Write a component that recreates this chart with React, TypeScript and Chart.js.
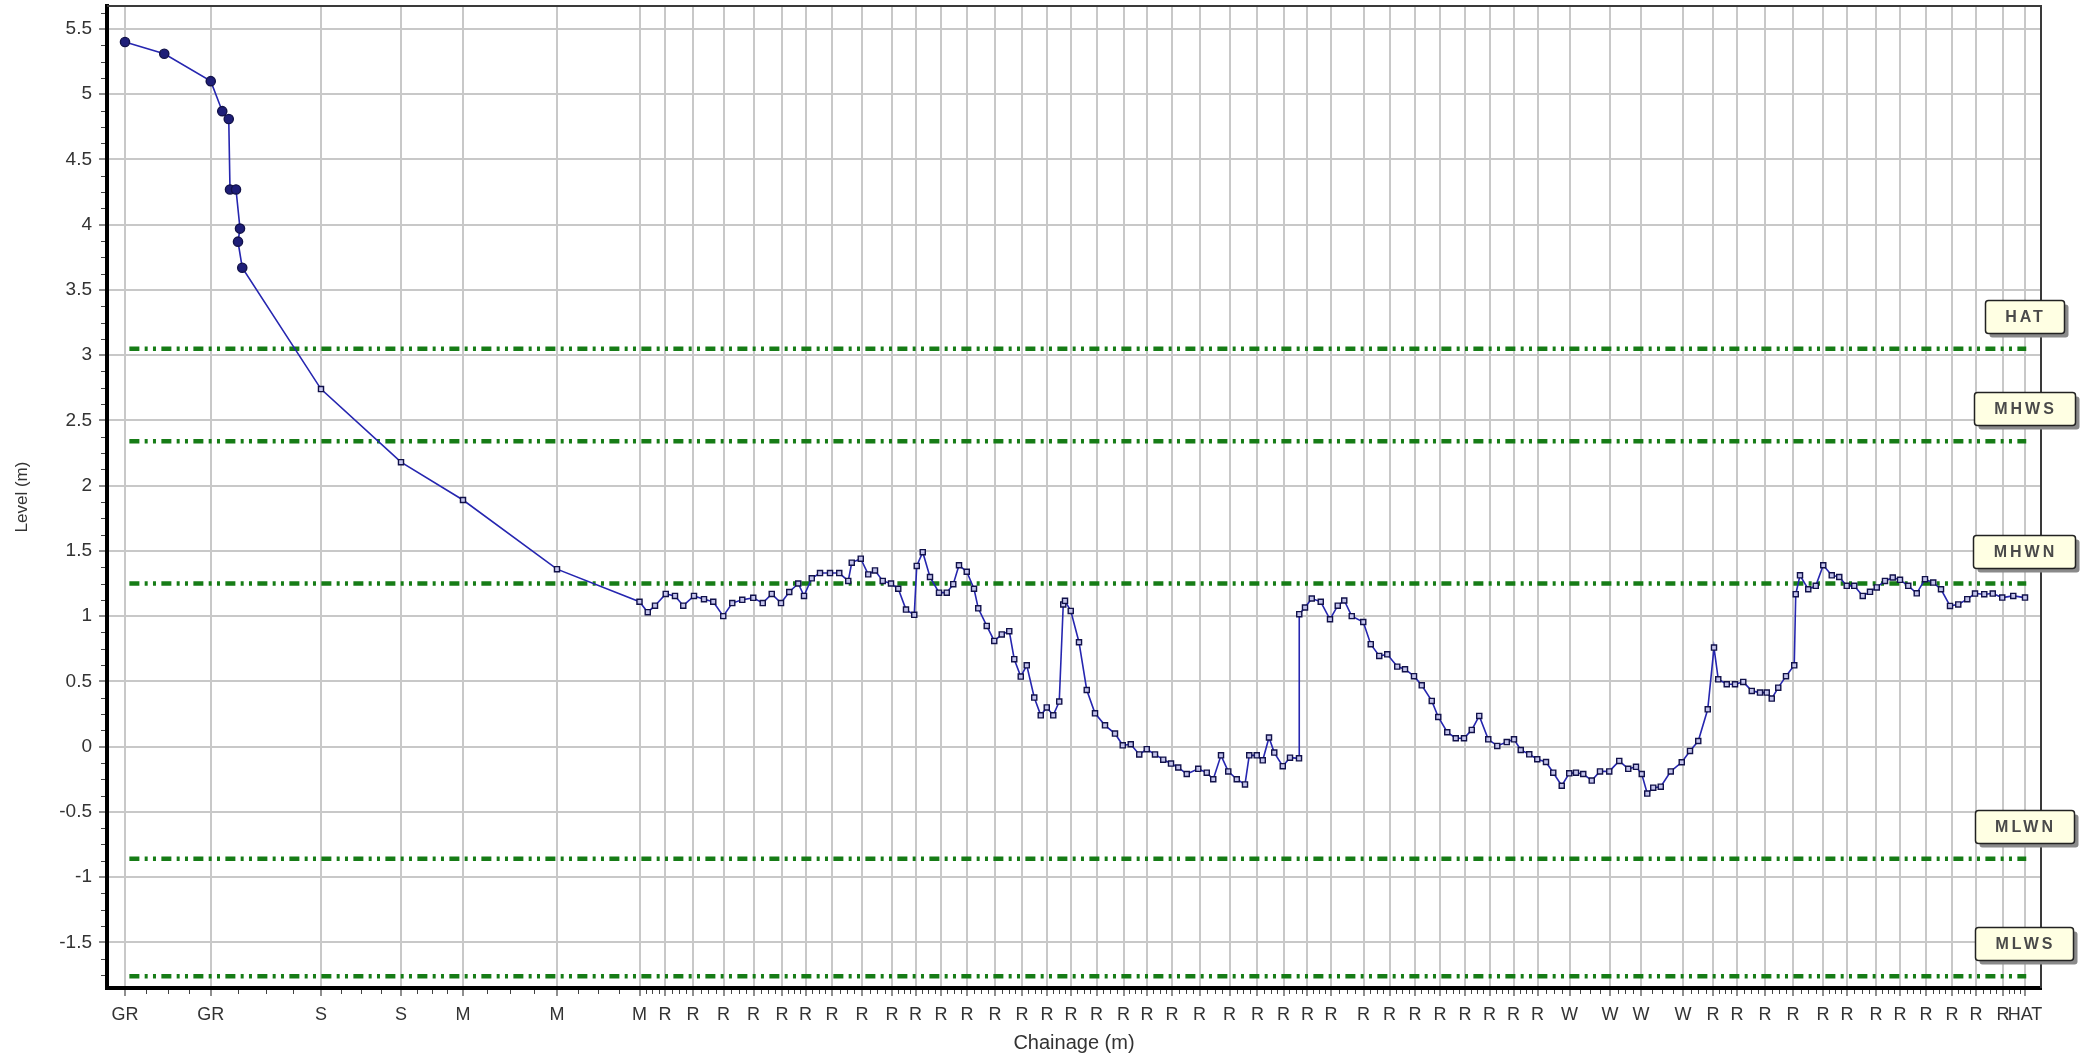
import React, { useEffect, useRef } from 'react';
import { Chart, registerables } from 'chart.js';

Chart.register(...registerables);

const FONT = '"Liberation Sans", Arial, sans-serif';
const NARROW = '"Liberation Sans Narrow", "Liberation Sans", Arial, sans-serif';

// ---- axis feature-code labels and their chainages (m) ----
const R34 = Array(34).fill('R');
const R12 = Array(12).fill('R');
const tickCodes = ['GR', 'GR', 'S', 'S', 'M', 'M', 'M', ...R34, 'W', 'W', 'W', 'W', ...R12, 'HAT'];
const tickChainages = [
  0, 6.86, 15.68, 22.08, 27.04, 34.56, 41.16,
  43.2, 45.44, 47.88, 50.28, 52.56, 54.44, 56.56, 58.96, 61.36, 63.24,
  65.28, 67.36, 69.6, 71.76, 73.76, 75.68, 77.72, 79.88, 81.76, 83.76,
  85.96, 88.36, 90.6, 92.68, 94.6, 96.48, 99.08, 101.16, 103.2, 105.2,
  107.2, 109.16, 111.08, 113.0,
  115.56, 118.8, 121.28, 124.64,
  127.04, 128.96, 131.2, 133.44, 135.84, 137.76, 140.08, 142.0, 144.08, 146.16, 148.08, 150.24,
  152.0,
];

const yTicks = [-1.5, -1, -0.5, 0, 0.5, 1, 1.5, 2, 2.5, 3, 3.5, 4, 4.5, 5, 5.5];

// ---- tidal levels ----
const levelNames = ['HAT', 'MHWS', 'MHWN', 'MLWN', 'MLWS'];
const levelValues = [3.05, 2.34, 1.25, -0.86, -1.76];
const levelFrom = 0.35;
const levelTo = 152.1;

// ---- profile: upper slope ----
const chSlope = [0, 3.14, 6.86, 7.78, 8.3, 8.4, 8.88, 9.2, 9.04, 9.38, 15.68, 22.08, 27.04, 34.56];
const lvSlope = [5.40, 5.31, 5.10, 4.87, 4.81, 4.27, 4.27, 3.97, 3.87, 3.67, 2.74, 2.18, 1.89, 1.36];

// ---- profile: reef section A ----
const chReefA = [
  41.16, 41.82, 42.4, 43.26, 44.0, 44.66, 45.52, 46.32, 47.06, 47.86,
  48.58, 49.38, 50.26, 51.02, 51.74, 52.48, 53.14, 53.86, 54.32, 54.94,
  55.6, 56.4, 57.14, 57.86, 58.14, 58.86, 59.46, 60.0, 60.62, 61.28,
  61.86, 62.48, 63.14, 63.34, 63.82, 64.4, 65.12, 65.74, 66.26, 66.72,
  67.34, 67.92, 68.26, 68.94, 69.54, 70.14, 70.74, 71.14, 71.66, 72.14,
  72.74, 73.26, 73.74, 74.26, 74.74, 75.06, 75.2, 75.66, 76.32, 76.94,
  77.6, 78.4, 79.2,
];
const lvReefA = [
  1.11, 1.03, 1.08, 1.17, 1.155, 1.08, 1.155, 1.13, 1.11, 1.00,
  1.10, 1.125, 1.14, 1.10, 1.17, 1.10, 1.185, 1.25, 1.155, 1.29,
  1.33, 1.33, 1.33, 1.27, 1.41, 1.44, 1.32, 1.35, 1.27, 1.25,
  1.21, 1.05, 1.01, 1.385, 1.49, 1.30, 1.18, 1.18, 1.245, 1.39,
  1.34, 1.21, 1.06, 0.925, 0.81, 0.86, 0.885, 0.67, 0.537, 0.623,
  0.376, 0.24, 0.30, 0.24, 0.345, 1.09, 1.117, 1.04, 0.80, 0.434,
  0.255, 0.163, 0.10,
];

// ---- profile: reef section B ----
const chReefB = [
  79.82, 80.46, 81.14, 81.74, 82.4, 83.06, 83.68, 84.26, 84.94, 85.86,
  86.54, 87.06, 87.68, 88.26, 88.94, 89.6, 89.94, 90.54, 91.02, 91.52,
  91.94, 92.62, 93.2, 93.92, 93.94, 94.4, 94.94, 95.66, 96.4, 97.02,
  97.54, 98.14, 99.06, 99.66, 100.34, 100.98, 101.78, 102.4, 103.12, 103.74,
  104.54, 105.06, 105.78, 106.46, 107.12, 107.74, 108.34, 109.06, 109.78, 110.54,
  111.12, 111.66, 112.34, 112.98, 113.68, 114.26, 114.94, 115.54,
];
const lvReefB = [
  0.01, 0.018, -0.06, -0.02, -0.06, -0.10, -0.13, -0.16, -0.21, -0.17,
  -0.20, -0.25, -0.067, -0.19, -0.25, -0.29, -0.067, -0.067, -0.105, 0.07,
  -0.046, -0.15, -0.085, -0.09, 1.015, 1.066, 1.135, 1.11, 0.976, 1.08,
  1.12, 1.00, 0.955, 0.785, 0.695, 0.707, 0.613, 0.593, 0.54, 0.47,
  0.35, 0.227, 0.11, 0.064, 0.064, 0.128, 0.235, 0.056, 0.005, 0.035,
  0.056, -0.026, -0.059, -0.097, -0.118, -0.20, -0.30, -0.205,
];

// ---- profile: reef section C ----
const chReefC = [
  116.08, 116.66, 117.34, 118.0, 118.74, 119.54, 120.26, 120.88, 121.34, 121.78,
  122.26, 122.86, 123.66, 124.54, 125.2, 125.86, 126.62, 127.12, 127.46, 128.14,
  128.8, 129.46, 130.14, 130.8, 131.34, 131.74, 132.26, 132.88, 133.54, 133.66,
  134.0, 134.66, 135.26, 135.86, 136.54, 137.14, 137.74, 138.34, 139.02, 139.6,
  140.14, 140.8, 141.42, 142.0, 142.66, 143.34, 144.0, 144.66, 145.28, 146.0,
  146.66, 147.38, 148.0, 148.74, 149.42, 150.18, 151.06, 152.0,
];
const lvReefC = [
  -0.20, -0.21, -0.26, -0.19, -0.19, -0.11, -0.17, -0.155, -0.21, -0.36,
  -0.315, -0.307, -0.19, -0.12, -0.033, 0.043, 0.286, 0.759, 0.516, 0.478,
  0.478, 0.496, 0.427, 0.414, 0.414, 0.368, 0.452, 0.54, 0.623, 1.168,
  1.313, 1.206, 1.232, 1.39, 1.313, 1.30, 1.232, 1.232, 1.155, 1.186,
  1.22, 1.27, 1.296, 1.278, 1.232, 1.175, 1.283, 1.257, 1.206, 1.078,
  1.09, 1.13, 1.173, 1.168, 1.173, 1.142, 1.155, 1.142,
];

const X_MIN = -1.44;
const X_MAX = 153.28;
const Y_MIN = -1.85;
const Y_MAX = 5.676;

const decorPlugin = {
  id: 'decor',
  afterDraw(chart: any) {
    const { ctx, chartArea: a, scales } = chart;
    const x = scales.x;
    const y = scales.y;
    ctx.save();
    // frame: top and right
    ctx.strokeStyle = '#3a3a3a';
    ctx.lineWidth = 2;
    ctx.beginPath();
    ctx.moveTo(a.left, a.top);
    ctx.lineTo(a.right, a.top);
    ctx.lineTo(a.right, a.bottom);
    ctx.stroke();

    // minor ticks on x axis (quarter divisions between coded points)
    ctx.strokeStyle = '#444';
    ctx.lineWidth = 1;
    ctx.beginPath();
    for (let i = 0; i < tickChainages.length - 1; i++) {
      const c0 = tickChainages[i];
      const c1 = tickChainages[i + 1];
      for (let k = 1; k < 4; k++) {
        const px = Math.round(x.getPixelForValue(c0 + ((c1 - c0) * k) / 4)) + 0.5;
        ctx.moveTo(px, a.bottom + 2);
        ctx.lineTo(px, a.bottom + 6);
      }
    }
    // minor ticks on y axis
    for (let v = -1.75; v <= Y_MAX; v += 0.125) {
      if (Math.abs(v * 2 - Math.round(v * 2)) < 1e-6) continue;
      const py = Math.round(y.getPixelForValue(v)) + 0.5;
      ctx.moveTo(a.left - 6, py);
      ctx.lineTo(a.left - 2, py);
    }
    ctx.stroke();

    // level name boxes
    ctx.font = `bold 16px ${FONT}`;
    (ctx as any).letterSpacing = '3px';
    levelNames.forEach((name, i) => {
      const py = y.getPixelForValue(levelValues[i]);
      const tw = ctx.measureText(name).width;
      const w = Math.round(tw + 38);
      const h = 33;
      const cx = a.right - 17;
      const bx = Math.round(cx - w / 2) + 0.5;
      const by = Math.round(py - 16 - h) + 0.5;
      ctx.fillStyle = '#8a8a8a';
      ctx.beginPath();
      ctx.roundRect(bx + 4, by + 4, w, h, 3);
      ctx.fill();
      ctx.fillStyle = '#ffffe3';
      ctx.strokeStyle = '#222';
      ctx.lineWidth = 1.5;
      ctx.beginPath();
      ctx.roundRect(bx, by, w, h, 3);
      ctx.fill();
      ctx.stroke();
      ctx.fillStyle = '#4a4a4a';
      ctx.textAlign = 'center';
      ctx.textBaseline = 'middle';
      ctx.fillText(name, cx + 1.5, by + h / 2 + 1);
    });
    ctx.restore();
  },
};

export default function App() {
  const ref = useRef<HTMLCanvasElement>(null);

  useEffect(() => {
    const canvas = ref.current;
    if (!canvas) return;
    const chainage = [...chSlope, ...chReefA, ...chReefB, ...chReefC];
    const level = [...lvSlope, ...lvReefA, ...lvReefB, ...lvReefC];
    const points = chainage.map((c, i) => ({ x: c, y: level[i] }));
    const nSlope = 10;

    const levelSets = levelNames.map((name, i) => ({
      label: name,
      data: [
        { x: levelFrom, y: levelValues[i] },
        { x: levelTo, y: levelValues[i] },
      ],
      borderColor: '#167c16',
      borderWidth: 4.5,
      borderDash: [10, 5.3, 3, 5.3, 3, 5.4],
      borderCapStyle: 'butt',
      pointRadius: 0,
      tension: 0,
    }));

    const chart = new Chart(canvas, {
      type: 'line',
      data: {
        datasets: [
          {
            label: 'Profile',
            data: points,
            borderColor: '#2626b0',
            borderWidth: 1.6,
            tension: 0,
            pointStyle: (c: any) => (c.dataIndex < nSlope ? 'circle' : 'rect'),
            pointRadius: (c: any) => (c.dataIndex < nSlope ? 4.6 : 3.6),
            pointBackgroundColor: (c: any) => (c.dataIndex < nSlope ? '#1e1e78' : '#c4c4ec'),
            pointBorderColor: '#12124a',
            pointBorderWidth: 1.4,
          } as any,
          ...(levelSets as any[]),
        ],
      },
      options: {
        animation: false,
        responsive: false,
        events: [],
        layout: { padding: { left: 0, right: 51, top: 6, bottom: 0 } },
        plugins: {
          legend: { display: false },
          tooltip: { enabled: false },
        },
        scales: {
          x: {
            type: 'linear',
            min: X_MIN,
            max: X_MAX,
            afterBuildTicks: (s: any) => {
              s.ticks = tickChainages.map((v) => ({ value: v }));
            },
            afterFit: (s: any) => {
              s.height = 69;
              s.paddingLeft = 0;
              s.paddingRight = 0;
            },
            ticks: {
              autoSkip: false,
              maxRotation: 0,
              minRotation: 0,
              padding: 8,
              color: '#333',
              font: { family: NARROW, size: 18 },
              callback: (_v: any, i: number) => tickCodes[i],
            },
            grid: {
              color: '#c8c8c8',
              lineWidth: 2,
              tickColor: '#444',
              tickWidth: 1.2,
              tickLength: 8,
            },
            border: { display: true, color: '#000', width: 4 },
            title: {
              display: true,
              text: 'Chainage (m)',
              color: '#333',
              font: { family: NARROW, size: 20 },
              padding: { top: 0, bottom: 2 },
            },
          },
          y: {
            type: 'linear',
            min: Y_MIN,
            max: Y_MAX,
            afterBuildTicks: (s: any) => {
              s.ticks = yTicks.map((v) => ({ value: v }));
            },
            afterFit: (s: any) => {
              s.width = 107;
              s.paddingTop = 0;
              s.paddingBottom = 0;
            },
            ticks: {
              padding: 7,
              color: '#333',
              font: { family: FONT, size: 19 },
              callback: (v: any) => String(v),
            },
            grid: {
              color: '#c8c8c8',
              lineWidth: 2,
              tickColor: '#444',
              tickWidth: 1.2,
              tickLength: 8,
            },
            border: { display: true, color: '#000', width: 4 },
            title: {
              display: true,
              text: 'Level (m)',
              color: '#333',
              font: { family: FONT, size: 17 },
              padding: { top: 12, bottom: 0 },
            },
          },
        },
      } as any,
      plugins: [decorPlugin],
    });

    return () => chart.destroy();
  }, []);

  return (
    <div style={{ position: 'absolute', left: 0, top: 0, width: 2092, height: 1057, background: '#fff' }}>
      <canvas ref={ref} width={2092} height={1057} style={{ display: 'block' }} />
    </div>
  );
}
